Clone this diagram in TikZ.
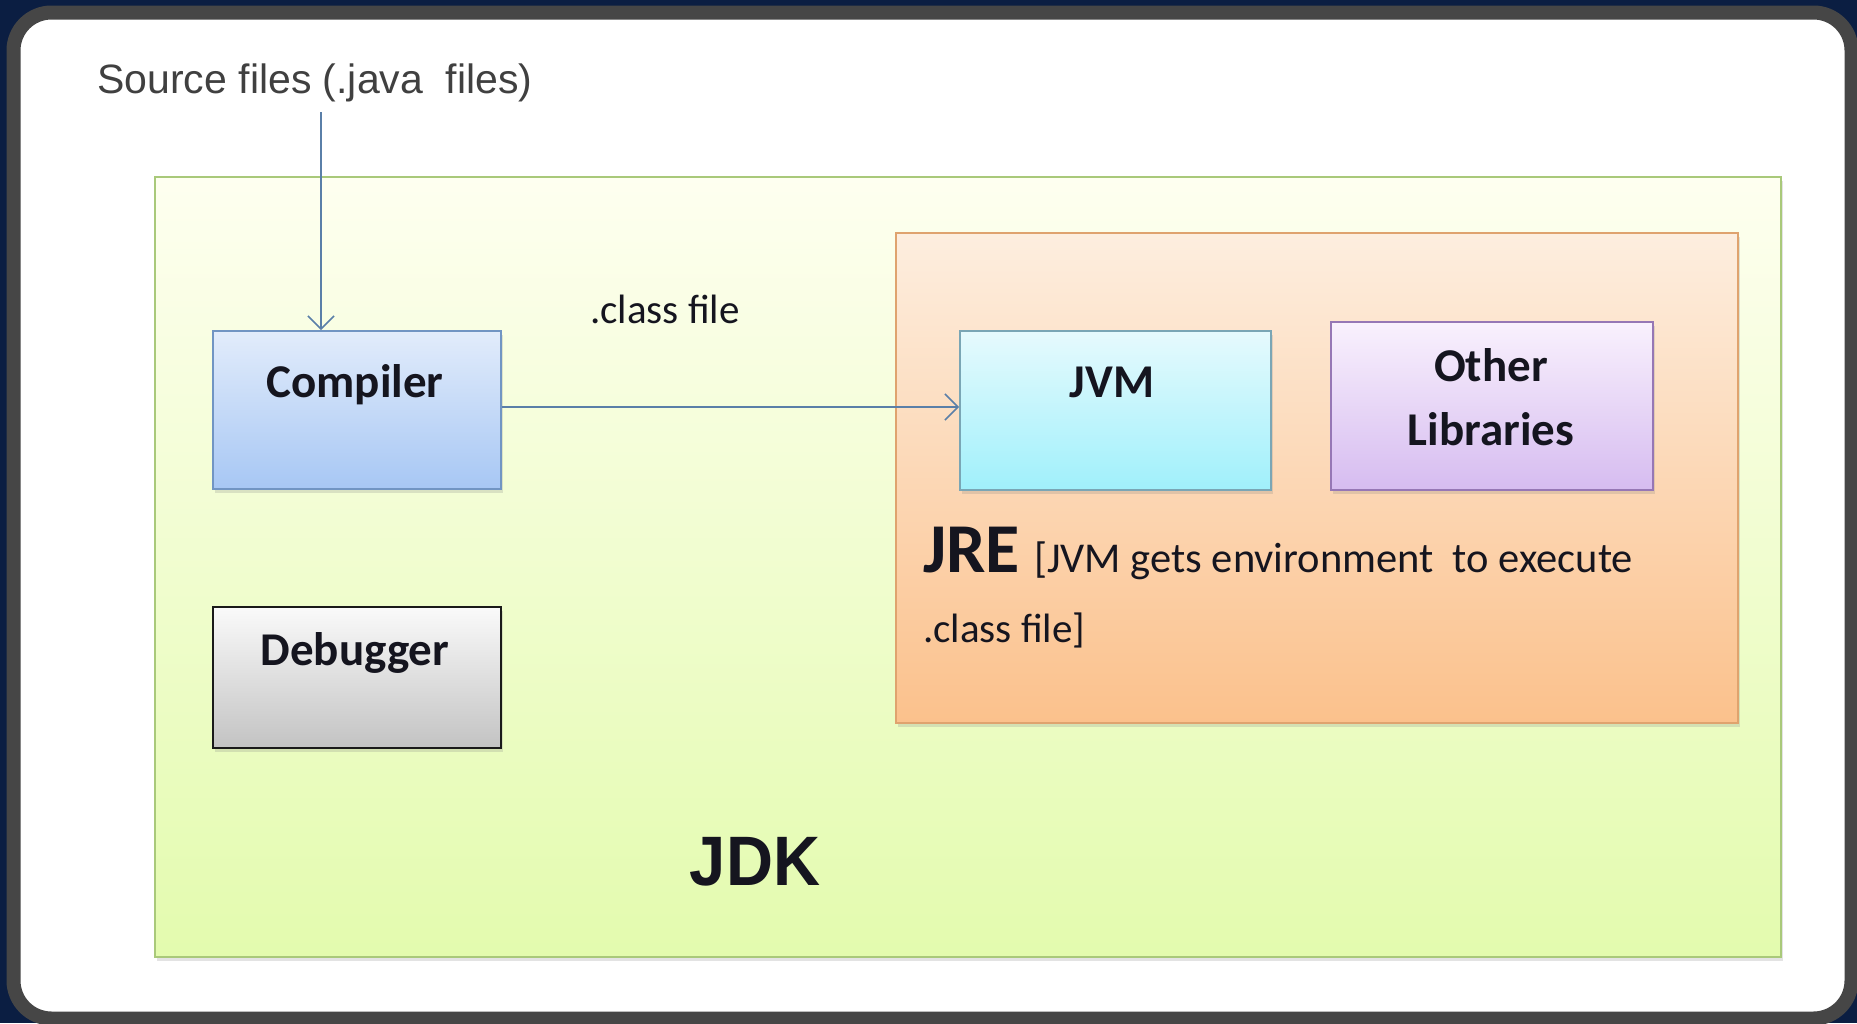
\documentclass[tikz,border=0pt]{standalone}
\usepackage{fontspec}
\setmainfont{Carlito}
\newfontfamily\arialf{Liberation Sans}
\usetikzlibrary{arrows.meta,shadows}
\definecolor{bgnavy}{HTML}{0B1E42}
\definecolor{panelgray}{HTML}{464646}
\definecolor{arrowblue}{HTML}{5A7FA8}
\definecolor{txtdark}{HTML}{15151F}
\definecolor{srcgray}{HTML}{404040}
\definecolor{jdkline}{HTML}{A9C97A}
\definecolor{jdktop}{HTML}{FEFFF0}
\definecolor{jdkbot}{HTML}{E3FBAE}
\definecolor{jreline}{HTML}{DFA36E}
\definecolor{jretop}{HTML}{FDEEDF}
\definecolor{jrebot}{HTML}{FBC18C}
\definecolor{compline}{HTML}{7195C3}
\definecolor{comptop}{HTML}{E2ECFB}
\definecolor{compbot}{HTML}{A7C7F4}
\definecolor{jvmline}{HTML}{7AA6B5}
\definecolor{jvmtop}{HTML}{E6FAFD}
\definecolor{jvmbot}{HTML}{A0F0FB}
\definecolor{libline}{HTML}{9677B5}
\definecolor{libtop}{HTML}{F9F1FD}
\definecolor{libbot}{HTML}{D6BCF0}
\definecolor{dbgline}{HTML}{1A1A1A}
\definecolor{dbgtop}{HTML}{FAFAFA}
\definecolor{dbgbot}{HTML}{C3C3C3}
\tikzset{
  boxbase/.style={rectangle, anchor=north west, inner sep=0pt, line width=1.6pt,
    drop shadow={opacity=0.22, shadow xshift=2pt, shadow yshift=-4pt}},
  boxlab/.style={font=\bfseries\fontsize{47}{64}\selectfont, text=txtdark, align=center, inner sep=0pt},
  plainlab/.style={font=\fontsize{41}{48}\selectfont, text=txtdark, inner sep=0pt},
  flow/.style={draw=arrowblue, line width=1.5pt, -{Straight Barb[length=13pt,width=26pt,line width=1.5pt]}}
}
\begin{document}
\begin{tikzpicture}[x=1pt,y=-1pt]
\useasboundingbox (0,0) rectangle (1857,1023);
\fill[bgnavy] (0,0) rectangle (1857,1023);
\draw[line width=14pt, draw=panelgray, fill=white, rounded corners=38pt] (13.5,12.5) rectangle (1851.5,1018.5);

% JDK container
\node[boxbase, draw=jdkline, top color=jdktop, bottom color=jdkbot,
      minimum width=1626pt, minimum height=780pt] (jdk) at (154,176) {};
\node[font=\arialf\bfseries\fontsize{70}{74}\selectfont, text=txtdark, inner sep=0pt, xscale=0.93] (jdkT) at (755,862) {JDK};

% JRE container
\node[boxbase, draw=jreline, top color=jretop, bottom color=jrebot,
      minimum width=842pt, minimum height=490pt] (jre) at (895,232) {};
\node[anchor=base west, font=\bfseries\fontsize{70}{74}\selectfont, text=txtdark, inner sep=0pt] (jreT) at (923,572) {JRE};
\node[anchor=base west, font=\fontsize{42.5}{48}\selectfont, text=txtdark, inner sep=0pt] (jreD1) at (1034,572) {[JVM gets environment\ \ to execute};
\node[anchor=base west, plainlab] (jreD2) at (923,642) {.class file]};

% Boxes
\node[boxbase, draw=compline, top color=comptop, bottom color=compbot,
      minimum width=288pt, minimum height=158pt] (comp) at (212,330) {};
\node[boxlab] (compT) at (355,385) {Compiler};

\node[boxbase, draw=dbgline, top color=dbgtop, bottom color=dbgbot,
      minimum width=288pt, minimum height=141pt] (dbg) at (212,606) {};
\node[boxlab] (dbgT) at (355,653) {Debugger};

\node[boxbase, draw=jvmline, top color=jvmtop, bottom color=jvmbot,
      minimum width=311pt, minimum height=159pt] (jvm) at (959,330) {};
\node[boxlab] (jvmT) at (1112,382) {JVM};

\node[boxbase, draw=libline, top color=libtop, bottom color=libbot,
      minimum width=322pt, minimum height=168pt] (lib) at (1330,321) {};
\node[boxlab] (libT) at (1491,397) {Other\\Libraries};

% Source text and arrows
\node[font=\arialf\fontsize{41}{48}\selectfont, text=srcgray, inner sep=0pt] (src) at (315,83) {Source files (.java\ \ files)};
\coordinate (srcfoot) at (321,112);
\draw[flow] (srcfoot) -- (srcfoot |- comp.north);

\node[plainlab] (cls) at (665,309) {.class file};
\coordinate (cstart) at (comp.east |- 0,407);
\draw[flow] (cstart) -- (jvm.west |- cstart);
\end{tikzpicture}
\end{document}
